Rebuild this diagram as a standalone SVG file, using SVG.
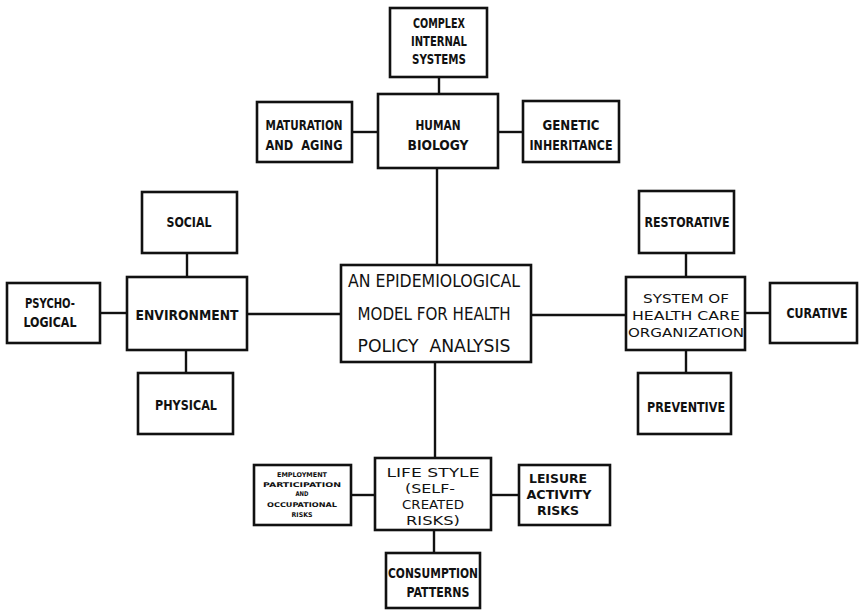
<svg xmlns="http://www.w3.org/2000/svg" width="859" height="611" viewBox="0 0 859 611">
<style>
rect{fill:#fff;stroke:#111;stroke-width:2.6}
.c line{stroke:#111;stroke-width:2.4}
text{font-family:"DejaVu Sans Condensed","DejaVu Sans","Liberation Sans",sans-serif;font-weight:bold;font-size:14px;fill:#111;text-anchor:middle}
.m{font-weight:normal;font-size:18px}
.n{font-weight:normal}
.t{font-size:13px}
.s{font-size:6.5px}
</style>
<rect x="0" y="0" width="859" height="611" style="fill:#fff;stroke:none"/>
<g class="c" id="connectors">
<line x1="439" y1="77" x2="439" y2="94"/>
<line x1="352" y1="132" x2="378" y2="132"/>
<line x1="498" y1="132" x2="523" y2="132"/>
<line x1="437" y1="168" x2="437" y2="265"/>
<line x1="187" y1="253" x2="187" y2="277"/>
<line x1="100" y1="313" x2="127" y2="313"/>
<line x1="186" y1="350" x2="186" y2="373"/>
<line x1="247" y1="314" x2="341" y2="314"/>
<line x1="531" y1="315" x2="626" y2="315"/>
<line x1="686" y1="253" x2="686" y2="277"/>
<line x1="745" y1="313" x2="770" y2="313"/>
<line x1="686" y1="350" x2="686" y2="373"/>
<line x1="435" y1="362" x2="435" y2="458"/>
<line x1="351" y1="495" x2="375" y2="495"/>
<line x1="491" y1="495" x2="519" y2="495"/>
<line x1="434" y1="530" x2="434" y2="553"/>
</g>
<g id="complex">
<rect x="390" y="8" width="97" height="69"/>
<text x="439" y="28" textLength="52" lengthAdjust="spacingAndGlyphs">COMPLEX</text>
<text x="439" y="46" textLength="56" lengthAdjust="spacingAndGlyphs">INTERNAL</text>
<text x="439" y="64" textLength="54" lengthAdjust="spacingAndGlyphs">SYSTEMS</text>
</g>
<g id="human">
<rect x="378" y="94" width="120" height="74"/>
<text x="438" y="130" textLength="45" lengthAdjust="spacingAndGlyphs">HUMAN</text>
<text x="438" y="150" textLength="61" lengthAdjust="spacingAndGlyphs">BIOLOGY</text>
</g>
<g id="maturation">
<rect x="257" y="102" width="95" height="60"/>
<text x="304" y="130" textLength="77" lengthAdjust="spacingAndGlyphs">MATURATION</text>
<text x="304" y="150" textLength="77" lengthAdjust="spacingAndGlyphs" xml:space="preserve">AND  AGING</text>
</g>
<g id="genetic">
<rect x="523" y="101" width="96" height="61"/>
<text x="571" y="130" textLength="57" lengthAdjust="spacingAndGlyphs">GENETIC</text>
<text x="571" y="150" textLength="83" lengthAdjust="spacingAndGlyphs">INHERITANCE</text>
</g>
<g id="social">
<rect x="142" y="192" width="95" height="61"/>
<text x="189" y="227" textLength="45" lengthAdjust="spacingAndGlyphs">SOCIAL</text>
</g>
<g id="psychological">
<rect x="7" y="283" width="93" height="60"/>
<text x="50" y="308" textLength="50" lengthAdjust="spacingAndGlyphs">PSYCHO-</text>
<text x="50" y="327" textLength="53" lengthAdjust="spacingAndGlyphs">LOGICAL</text>
</g>
<g id="environment">
<rect x="127" y="277" width="120" height="73"/>
<text x="187" y="320" textLength="103" lengthAdjust="spacingAndGlyphs">ENVIRONMENT</text>
</g>
<g id="physical">
<rect x="138" y="373" width="95" height="61"/>
<text x="186" y="410" textLength="62" lengthAdjust="spacingAndGlyphs">PHYSICAL</text>
</g>
<g id="central">
<rect x="341" y="265" width="190" height="97"/>
<text class="m" x="434" y="287" textLength="172" lengthAdjust="spacingAndGlyphs">AN EPIDEMIOLOGICAL</text>
<text class="m" x="434" y="320" textLength="153" lengthAdjust="spacingAndGlyphs">MODEL FOR HEALTH</text>
<text class="m" x="434" y="352" textLength="153" lengthAdjust="spacingAndGlyphs" xml:space="preserve">POLICY  ANALYSIS</text>
</g>
<g id="restorative">
<rect x="639" y="191" width="95" height="62"/>
<text x="687" y="227" textLength="85" lengthAdjust="spacingAndGlyphs">RESTORATIVE</text>
</g>
<g id="system">
<rect x="626" y="277" width="119" height="73"/>
<text class="n t" x="686" y="303" textLength="86" lengthAdjust="spacingAndGlyphs">SYSTEM OF</text>
<text class="n t" x="686" y="320" textLength="108" lengthAdjust="spacingAndGlyphs">HEALTH CARE</text>
<text class="n t" x="686" y="337" textLength="116" lengthAdjust="spacingAndGlyphs">ORGANIZATION</text>
</g>
<g id="curative">
<rect x="770" y="283" width="87" height="60"/>
<text x="817" y="318" textLength="61" lengthAdjust="spacingAndGlyphs">CURATIVE</text>
</g>
<g id="preventive">
<rect x="638" y="373" width="93" height="61"/>
<text x="686" y="412" textLength="78" lengthAdjust="spacingAndGlyphs">PREVENTIVE</text>
</g>
<g id="lifestyle">
<rect x="375" y="458" width="116" height="72"/>
<text class="n t" x="433" y="477" textLength="93" lengthAdjust="spacingAndGlyphs">LIFE STYLE</text>
<text class="n t" x="430" y="493" textLength="50" lengthAdjust="spacingAndGlyphs">(SELF-</text>
<text class="n t" x="433" y="509" textLength="62" lengthAdjust="spacingAndGlyphs">CREATED</text>
<text class="n t" x="433" y="525" textLength="54" lengthAdjust="spacingAndGlyphs">RISKS)</text>
</g>
<g id="employment">
<rect x="254" y="465" width="97" height="60"/>
<text class="s" x="302" y="477" textLength="50" lengthAdjust="spacingAndGlyphs">EMPLOYMENT</text>
<text class="s" x="302" y="487" textLength="78" lengthAdjust="spacingAndGlyphs">PARTICIPATION</text>
<text class="s" x="302" y="496" textLength="13" lengthAdjust="spacingAndGlyphs">AND</text>
<text class="s" x="302" y="507" textLength="70" lengthAdjust="spacingAndGlyphs">OCCUPATIONAL</text>
<text class="s" x="302" y="517" textLength="21" lengthAdjust="spacingAndGlyphs">RISKS</text>
</g>
<g id="leisure">
<rect x="519" y="465" width="91" height="60"/>
<text class="t" x="558" y="483" textLength="58" lengthAdjust="spacingAndGlyphs">LEISURE</text>
<text class="t" x="559" y="499" textLength="65" lengthAdjust="spacingAndGlyphs">ACTIVITY</text>
<text class="t" x="558" y="515" textLength="42" lengthAdjust="spacingAndGlyphs">RISKS</text>
</g>
<g id="consumption">
<rect x="386" y="553" width="94" height="55"/>
<text x="433" y="578" textLength="90" lengthAdjust="spacingAndGlyphs">CONSUMPTION</text>
<text x="438" y="597" textLength="63" lengthAdjust="spacingAndGlyphs">PATTERNS</text>
</g>
</svg>
